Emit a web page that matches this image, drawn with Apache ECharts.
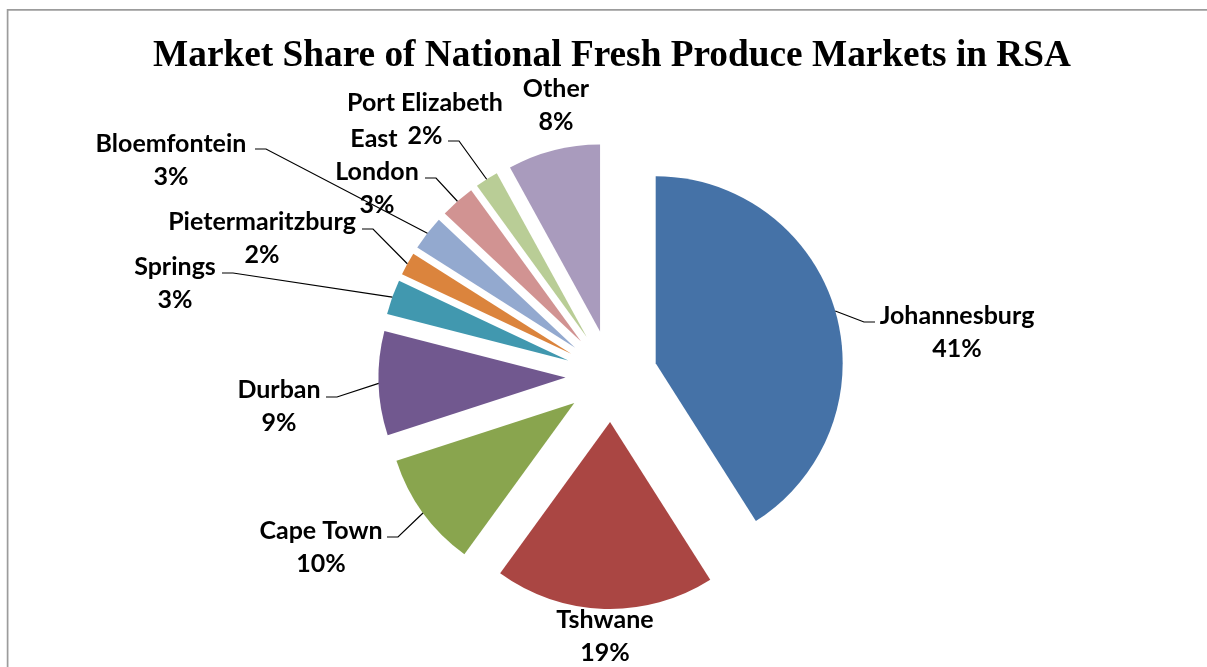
<!DOCTYPE html>
<html>
<head>
<meta charset="utf-8">
<script src="https://cdn.jsdelivr.net/npm/echarts@6/dist/echarts.min.js"></script>
<style>
html,body{margin:0;padding:0;background:#fff;}
#chart{width:1207px;height:667px;}
</style>
</head>
<body>
<div id="chart"></div>
<script>
// ---- data ----
const titleText = 'Market Share of National Fresh Produce Markets in RSA';
const categories = ['Johannesburg', 'Tshwane', 'Cape Town', 'Durban', 'Springs',
  'Pietermaritzburg', 'Bloemfontein', 'East London', 'Port Elizabeth', 'Other'];
const shares = [41, 19, 10, 9, 3, 2, 3, 3, 2, 8];

// ---- styles / layout (not data) ----
const colors = ['#4572A7', '#AA4643', '#89A54E', '#71588F', '#4198AF',
  '#DB843D', '#93A9CF', '#D19392', '#B9CD96', '#A99BBD'];
const pieCenter = [611.5, 376];
const pieRadius = 187;
const explode = 46;
// centre of each label block
const labelCenters = [[957, 332], [605, 636], [321, 547], [279, 406], [175, 283],
  [262, 238], [171, 160], [377, 172], [425, 119], [556, 105]];
// where each leader line meets its label (null = no leader line)
const leaderEnds = [[875, 322], null, [387, 537], [326, 397], [222, 273],
  [362, 229], [255, 149], [425, 178], [448, 141], null];
const leaderTail = 11;

const chart = echarts.init(document.getElementById('chart'), null, {renderer: 'canvas'});

const sliceData = categories.map((name, i) => ({
  name: name,
  value: shares[i],
  selected: true,
  itemStyle: {color: colors[i]}
}));

const labelData = categories.map((name, i) => {
  const item = {name: name, value: shares[i]};
  if (!leaderEnds[i]) item.labelLine = {show: false};
  if (name === 'East London') item.label = {width: 100, overflow: 'break'};
  return item;
});

chart.setOption({
  animation: false,
  backgroundColor: '#fff',
  title: {
    text: titleText,
    left: 607,
    textAlign: 'center',
    top: 33,
    textStyle: {
      fontFamily: 'Liberation Serif',
      fontWeight: 'bold',
      fontSize: 37.3,
      color: '#000'
    }
  },
  graphic: [{
    type: 'rect',
    silent: true,
    z: -10,
    shape: {x: 7.6, y: 9.8, width: 1400, height: 900},
    style: {fill: 'none', stroke: '#9c9c9c', lineWidth: 1.7}
  }],
  series: [{
    // exploded slices
    type: 'pie',
    center: pieCenter,
    radius: pieRadius,
    startAngle: 90,
    clockwise: true,
    selectedMode: 'multiple',
    selectedOffset: explode,
    silent: true,
    label: {show: false},
    labelLine: {show: false},
    select: {itemStyle: {borderWidth: 0}},
    emphasis: {disabled: true},
    itemStyle: {borderWidth: 0},
    data: sliceData
  }, {
    // labels + leader lines, anchored at the exploded outer arc
    type: 'pie',
    center: pieCenter,
    radius: pieRadius + explode,
    startAngle: 90,
    clockwise: true,
    selectedMode: false,
    silent: true,
    avoidLabelOverlap: false,
    percentPrecision: 0,
    z: 5,
    itemStyle: {color: 'rgba(0,0,0,0)', borderWidth: 0},
    emphasis: {disabled: true},
    label: {
      show: true,
      position: 'outside',
      formatter: '{b}\n{d}%',
      fontFamily: 'Lato',
      fontWeight: 'bold',
      fontSize: 25,
      lineHeight: 33,
      color: '#000',
      align: 'center'
    },
    labelLine: {
      show: true,
      length: 20,
      length2: leaderTail,
      lineStyle: {color: '#000', width: 1.2}
    },
    labelLayout: function (params) {
      const i = params.dataIndex;
      const p = labelCenters[i];
      const out = {x: p[0], y: p[1], align: 'center', verticalAlign: 'middle'};
      const end = leaderEnds[i];
      if (end && params.labelLinePoints && params.labelLinePoints.length) {
        const start = params.labelLinePoints[0];
        const dir = start[0] < end[0] ? -1 : 1;
        out.labelLinePoints = [start, [end[0] + dir * leaderTail, end[1]], end];
      }
      return out;
    },
    data: labelData
  }]
});
</script>
</body>
</html>
